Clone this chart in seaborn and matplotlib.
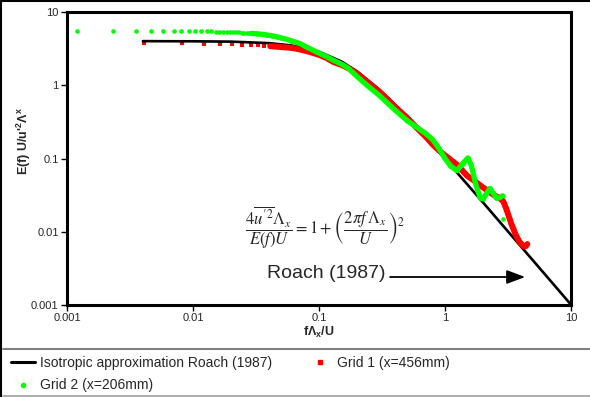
import numpy as np
import pandas as pd
import seaborn as sns
import matplotlib.pyplot as plt
from matplotlib.lines import Line2D
from matplotlib.ticker import NullLocator

# isotropic approximation, Roach (1987)
iso_f = [0.004, 0.01, 0.02, 0.04, 0.06, 0.08, 0.1, 0.15, 0.2, 0.3, 0.4, 0.6,
         0.8, 1.0, 1.5, 2.0, 3.0, 4.0, 6.0, 8.0, 10.0]
iso_E = [4.0, 3.98, 3.94, 3.76, 3.50, 3.19, 2.87, 2.12, 1.55, 0.879, 0.547,
         0.263, 0.152, 0.0988, 0.0445, 0.0252, 0.0112, 0.00632, 0.00281,
         0.00158, 0.00101]

# Grid 1 (x=456mm)
g1_f = [0.0041, 0.0082, 0.0123, 0.0164, 0.0205, 0.0246, 0.0287, 0.0328, 0.0369,
        0.041, 0.045, 0.05, 0.056, 0.062, 0.068, 0.074, 0.08, 0.09, 0.1, 0.115,
        0.13, 0.15, 0.17, 0.2, 0.24, 0.3, 0.35, 0.4, 0.5, 0.6, 0.7, 0.8, 0.9,
        1.0, 1.1, 1.25, 1.4, 1.5, 1.7, 1.9, 2.1, 2.3, 2.5, 2.7, 2.9, 3.05, 3.2,
        3.35, 3.5, 3.65, 3.8, 3.95, 4.1, 4.25, 4.4, 4.5]
g1_E = [3.74, 3.74, 3.70, 3.66, 3.62, 3.57, 3.53, 3.49, 3.45,
        3.41, 3.37, 3.32, 3.27, 3.22, 3.12, 3.02, 2.92, 2.75, 2.6, 2.35,
        2.08, 1.9, 1.72, 1.45, 1.12, 0.82, 0.64, 0.51, 0.36, 0.26, 0.2, 0.155, 0.128,
        0.11, 0.097, 0.082, 0.066, 0.058, 0.05, 0.043, 0.038, 0.034, 0.031, 0.029, 0.026, 0.021, 0.0165,
        0.013, 0.0108, 0.009, 0.0079, 0.0071, 0.0066, 0.0063, 0.0064, 0.0068]

# Grid 2 (x=206mm)
g2_f = [0.0012, 0.0023, 0.0035, 0.0046, 0.0058, 0.007, 0.0081, 0.0093, 0.0104,
        0.0116, 0.0128, 0.0139, 0.0151, 0.0162, 0.0174, 0.0186, 0.0197, 0.0209,
        0.022, 0.0232, 0.0244, 0.0255, 0.0267, 0.0278, 0.029,
        0.032, 0.035, 0.038, 0.042, 0.046, 0.05, 0.055, 0.06, 0.066, 0.072,
        0.08, 0.09, 0.1, 0.115, 0.13, 0.15, 0.17, 0.2, 0.24, 0.3, 0.35, 0.4,
        0.5, 0.6, 0.7, 0.8, 0.9, 1.0, 1.1, 1.24, 1.38, 1.52, 1.62, 1.75, 1.9,
        2.0, 2.15, 2.27, 2.4, 2.56, 2.7, 2.86]
g2_E = [5.5, 5.5, 5.5, 5.5, 5.5, 5.5, 5.48, 5.47, 5.46,
        5.45, 5.43, 5.42, 5.4, 5.38, 5.36, 5.34, 5.32, 5.3,
        5.27, 5.25, 5.22, 5.2, 5.17, 5.14, 5.11,
        5.05, 4.97, 4.88, 4.75, 4.6, 4.45, 4.25, 4.05, 3.85, 3.65,
        3.3, 3.0, 2.75, 2.45, 2.2, 1.95, 1.72, 1.32, 1.0, 0.73, 0.57, 0.46,
        0.33, 0.265, 0.22, 0.18, 0.135, 0.1, 0.08, 0.068, 0.085, 0.102, 0.08, 0.045, 0.029,
        0.028, 0.034, 0.039, 0.034, 0.029, 0.029, 0.031]
g2_out_f = [2.86]
g2_out_E = [0.0149]

iso = pd.DataFrame({"f": iso_f, "E": iso_E})
g1 = pd.DataFrame({"f": g1_f, "E": g1_E})
g2 = pd.DataFrame({"f": g2_f, "E": g2_E})
g2_out = pd.DataFrame({"f": g2_out_f, "E": g2_out_E})

sns.set_style("white")
plt.rcParams['font.family'] = ['Liberation Sans', 'DejaVu Sans']
plt.rcParams['mathtext.fontset'] = 'custom'
plt.rcParams['mathtext.rm'] = 'Liberation Sans'
plt.rcParams['mathtext.it'] = 'Liberation Sans:italic'
plt.rcParams['mathtext.bf'] = 'Liberation Sans:bold'

RED = '#ff0000'
GREEN = '#00ff00'

fig = plt.figure(figsize=(5.9, 3.97), dpi=100)
ax = fig.add_axes([0.1136, 0.2317, 0.8542, 0.7381])
ax.set_xscale('log')
ax.set_yscale('log')

sns.lineplot(data=iso, x="f", y="E", ax=ax, color='black', lw=1.9,
             estimator=None, sort=True)
sns.lineplot(data=g1[g1.f > 0.04], x="f", y="E", ax=ax, color=RED, lw=4.3,
             estimator=None, sort=True)
sns.scatterplot(data=g1, x="f", y="E", ax=ax, color=RED, marker='s', s=11,
                linewidth=0)
sns.lineplot(data=g2[g2.f > 0.028], x="f", y="E", ax=ax, color=GREEN, lw=3.8,
             estimator=None, sort=True)
sns.scatterplot(data=g2, x="f", y="E", ax=ax, color=GREEN, marker='o', s=11,
                linewidth=0)
sns.scatterplot(data=g2_out, x="f", y="E", ax=ax, color=GREEN, marker='o', s=11,
                linewidth=0)

ax.set_xlim(0.001, 10)
ax.set_ylim(0.001, 10)
ticks = [0.001, 0.01, 0.1, 1, 10]
ax.set_xticks(ticks, ["0.001", "0.01", "0.1", "1", "10"])
ax.set_yticks(ticks, ["0.001", "0.01", "0.1", "1", "10"])
ax.xaxis.set_minor_locator(NullLocator())
ax.yaxis.set_minor_locator(NullLocator())
ax.tick_params(axis='both', which='major', direction='out', length=4, width=1,
               color='black', labelsize=8, pad=2, bottom=True, left=True)
for sp in ax.spines.values():
    sp.set_linewidth(2.2)
    sp.set_color('black')

ax.set_xlabel(r"f$\mathbf{\Lambda_{x}}$/U", fontsize=9, fontweight='bold',
              labelpad=1)
ax.set_ylabel(r"E(f) U/u'$^{\mathbf{2}}$$\mathbf{\Lambda}^{\mathbf{x}}$",
              fontsize=9, fontweight='bold')
ax.yaxis.set_label_coords(-0.067, 0.56)

ax.text(0.512, 0.263,
        r"$\dfrac{4\overline{u^{\prime 2}}\Lambda_x}{E(f)U}=1+\left(\dfrac{2\pi f\,\Lambda_x}{U}\right)^2$",
        transform=ax.transAxes, ha='center', va='center', fontsize=12,
        math_fontfamily='stix')
ax.text(0.631, 0.106, "Roach (1987)", transform=ax.transAxes, ha='right',
        va='center', fontsize=14)
ax.annotate("", xy=(0.909, 0.0956), xytext=(0.641, 0.0956),
            xycoords='axes fraction', textcoords='axes fraction',
            arrowprops=dict(arrowstyle='-|>,head_length=0.8,head_width=0.3',
                            color='black', lw=1.3, mutation_scale=14,
                            shrinkA=0, shrinkB=0))

handles = [Line2D([0], [0], color='black', lw=2.2),
           Line2D([0], [0], color=GREEN, marker='o', ls='none', markersize=3),
           Line2D([0], [0], color=RED, marker='s', ls='none', markersize=3)]
labels = ["Isotropic approximation Roach (1987)", "Grid 2 (x=206mm)",
          "Grid 1 (x=456mm)"]
fig.legend(handles, labels, loc='upper left', bbox_to_anchor=(0.0186, 0.103),
           ncol=2, frameon=False, fontsize=10, handlelength=1.73,
           handletextpad=0.36, columnspacing=2.6, labelspacing=0.6,
           borderpad=0, borderaxespad=0)

# chart frame and legend box
fig.add_artist(Line2D([0.0017, 1], [0.9975, 0.9975], color='black', lw=1.5))
fig.add_artist(Line2D([0.0017, 0.0017], [0, 0.9975], color='black', lw=1.5))
fig.add_artist(Line2D([0.005, 1], [0.121, 0.121], color='#808080', lw=1.5))
fig.add_artist(Line2D([0.005, 1], [0.0025, 0.0025], color='#a0a0a0', lw=1.2))

fig.savefig("out.png", dpi=100)
